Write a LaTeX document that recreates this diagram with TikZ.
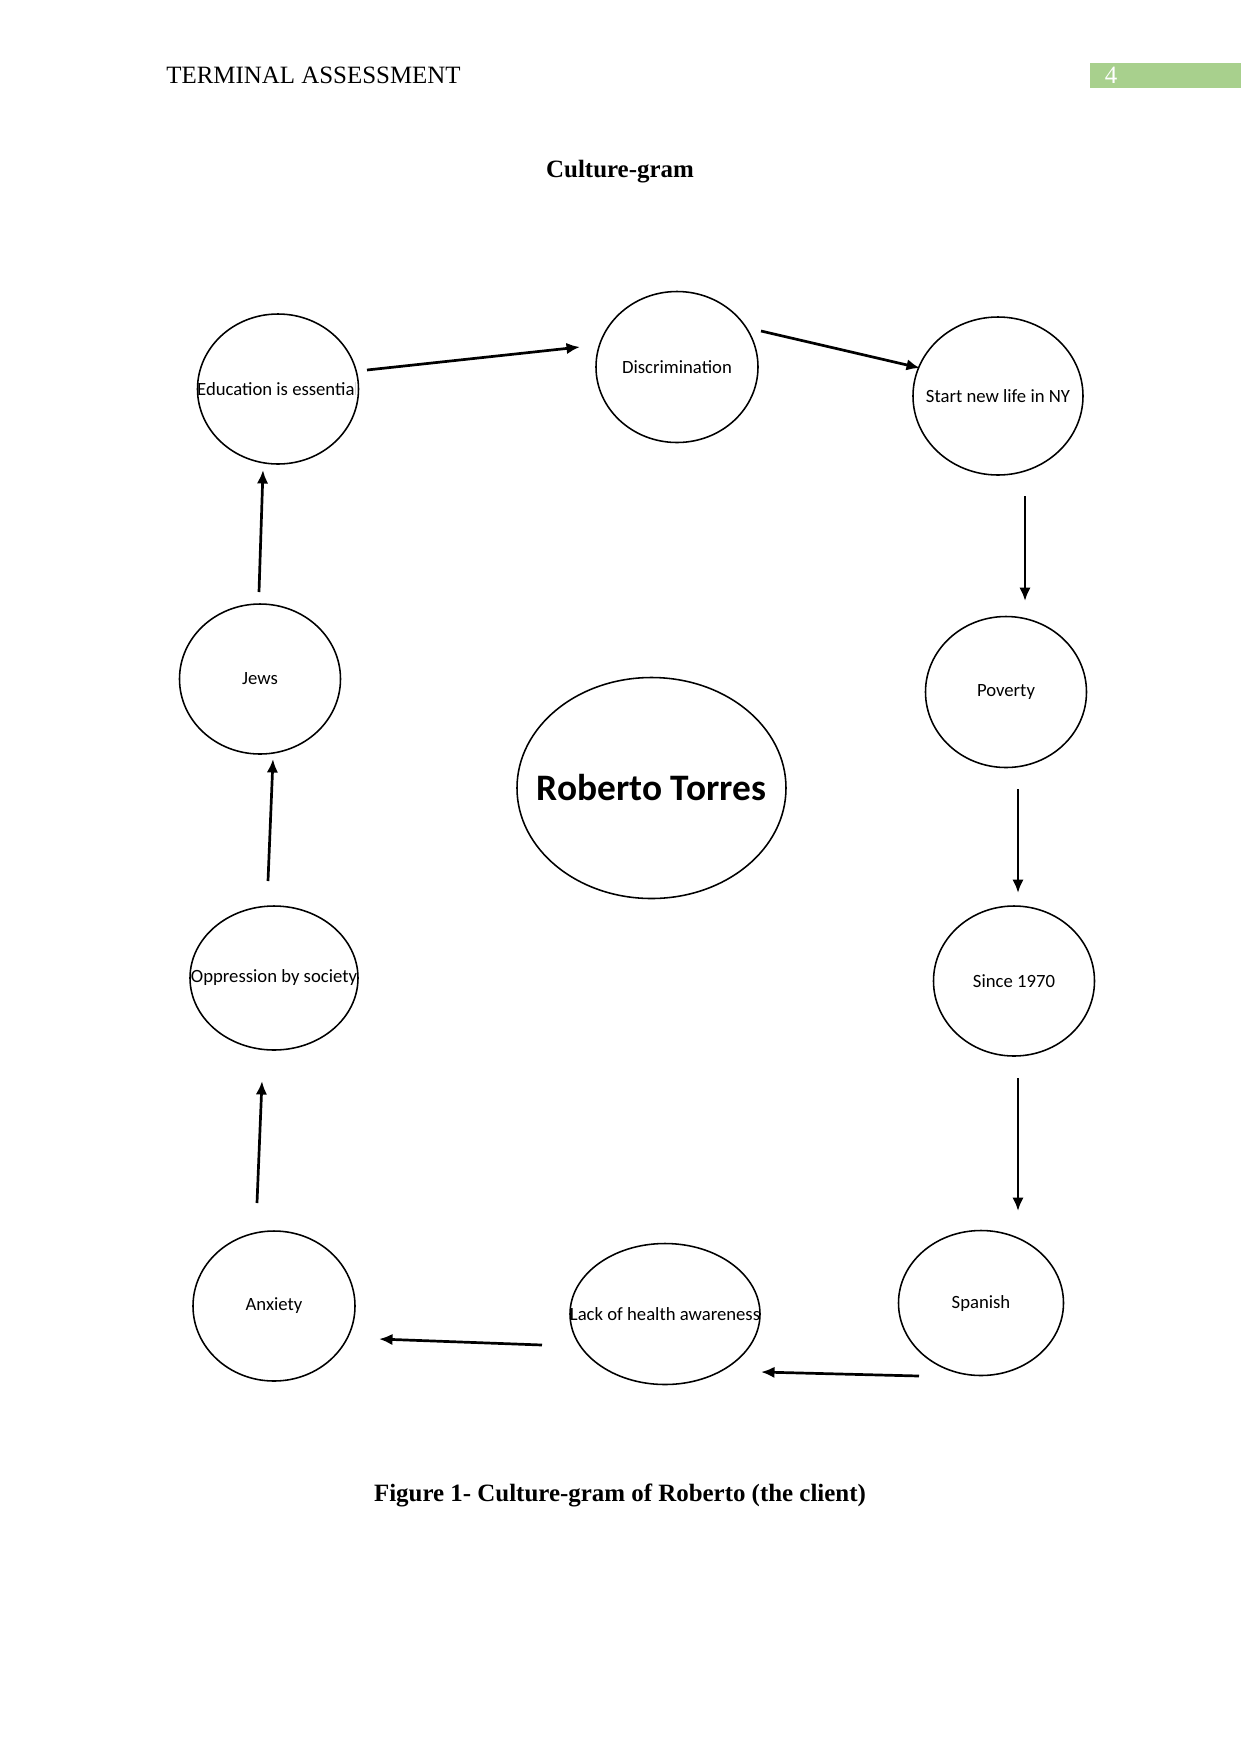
\documentclass[tikz,border=0pt]{standalone}
\usepackage{fontspec}
\setmainfont{Liberation Serif}
\newfontfamily\calibri{Carlito}
\usetikzlibrary{shapes.geometric,arrows.meta}
\definecolor{pagegreen}{HTML}{A8D08D}
\tikzset{
  x=0.4815pt, y=-0.4815pt,
  bub/.style 2 args={draw, line width=0.75pt, ellipse, inner sep=0pt,
    minimum width=#1*0.4815pt, minimum height=#2*0.4815pt},
  lbl/.style={font=\calibri\fontsize{9}{10}\selectfont, inner sep=0pt},
  conn/.style={line width=1.3pt, -{Latex[length=6.5pt,width=5.5pt]}}
}
\begin{document}
\begin{tikzpicture}
\useasboundingbox (0,0) rectangle (1241,1754);
% header
\node[anchor=base west, inner sep=0pt, font=\fontsize{12}{14}\selectfont] (hdr) at (166,83) {TERMINAL ASSESSMENT};
\fill[pagegreen] (1090,63) rectangle (1241,88);
\node[anchor=base, inner sep=0pt, text=white, font=\fontsize{12}{14}\selectfont] (pg) at (1111,83) {4};
\node[anchor=base, inner sep=0pt, font=\bfseries\fontsize{12}{14}\selectfont] (title) at (620,177) {Culture-gram};
\node[anchor=base, inner sep=0pt, font=\bfseries\fontsize{12}{14}\selectfont] (cap) at (620,1501) {Figure 1- Culture-gram of Roberto (the client)};

% ellipses
\node[bub={161}{150}] (edu) at (278,389) {};
\node[bub={162}{151}] (disc) at (677,367) {};
\node[bub={170}{158}] (ny) at (998,396) {};
\node[bub={161}{151}] (pov) at (1006,692) {};
\node[bub={161}{150}] (since) at (1014,981) {};
\node[bub={165}{145}] (spa) at (981,1303) {};
\node[bub={190}{141}] (lack) at (665,1314) {};
\node[bub={162}{150}] (anx) at (274,1306) {};
\node[bub={168}{144}] (opp) at (274,978) {};
\node[bub={161}{150}] (jews) at (260,679) {};
\node[bub={269}{221}] (rob) at (651.5,788) {};

% labels
\begin{scope}
\clip (197,300) rectangle (355,480);
\node[lbl] (tedu) at (edu) {Education is essential};
\end{scope}
\node[lbl] (tdisc) at (disc) {Discrimination};
\node[lbl] (tny) at (ny) {Start new life in NY};
\node[lbl] (tpov) at (pov) {Poverty};
\node[lbl] (tsince) at (since) {Since 1970};
\node[lbl] (tspa) at (spa) {Spanish};
\begin{scope}
\clip (570,1240) rectangle (760,1390);
\node[lbl] (tlack) at (lack) {Lack of health awareness};
\end{scope}
\node[lbl] (tanx) at (anx) {Anxiety};
\begin{scope}
\clip (190,900) rectangle (358,1060);
\node[lbl] (topp) at (opp) {Oppression by society};
\end{scope}
\node[lbl] (tjews) at (jews) {Jews};
\node[inner sep=0pt, font=\calibri\bfseries\fontsize{18}{20}\selectfont] (trob) at (rob) {Roberto Torres};

% arrow end points (arrows float between the ellipses)
\coordinate (a1s) at (367,370);  \coordinate (a1e) at (580,347);
\coordinate (a2s) at (761,331);  \coordinate (a2e) at (920,368);
\coordinate (a3s) at (1025,496); \coordinate (a3e) at (1025,601);
\coordinate (a4s) at (1018,789); \coordinate (a4e) at (1018,893);
\coordinate (a5s) at (1018,1078);\coordinate (a5e) at (1018,1211);
\coordinate (a6s) at (919,1376); \coordinate (a6e) at (761,1372);
\coordinate (a7s) at (542,1345); \coordinate (a7e) at (379,1339);
\coordinate (a8s) at (257,1203); \coordinate (a8e) at (262,1081);
\coordinate (a9s) at (268,881);  \coordinate (a9e) at (273,759);
\coordinate (a10s) at (259,592); \coordinate (a10e) at (263,470);

\draw[conn] (a1s) -- (a1e);
\draw[conn] (a2s) -- (a2e);
\draw[conn] (a3s) -- (a3e);
\draw[conn] (a4s) -- (a4e);
\draw[conn] (a5s) -- (a5e);
\draw[conn] (a6s) -- (a6e);
\draw[conn] (a7s) -- (a7e);
\draw[conn] (a8s) -- (a8e);
\draw[conn] (a9s) -- (a9e);
\draw[conn] (a10s) -- (a10e);
\end{tikzpicture}
\end{document}
